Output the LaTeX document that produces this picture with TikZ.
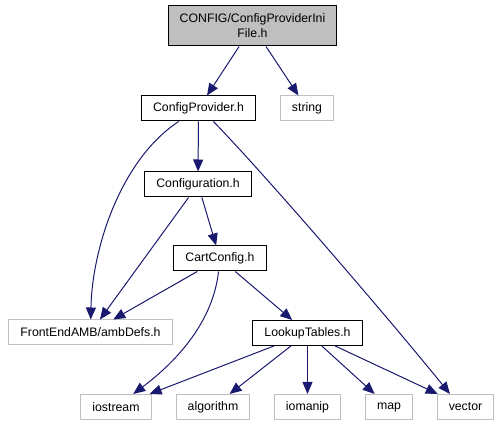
\documentclass[tikz,border=0pt]{standalone}
\usepackage{fontspec}
\setmainfont{Liberation Sans}
\usepackage{xcolor}
\usetikzlibrary{arrows.meta}
\definecolor{edgeblue}{RGB}{25,25,112}
\definecolor{boxgray}{RGB}{191,191,191}

\begin{document}
\begin{tikzpicture}[x=1pt, y=-1pt,
    file/.style={rectangle, draw=black, line width=1pt, inner xsep=11.5pt, inner ysep=0pt, minimum height=25pt, font=\fontsize{12.3}{15}\selectfont},
    extfile/.style={file, draw=boxgray},
    topfile/.style={file, fill=boxgray, align=center, minimum height=40pt},
    dep/.style={-{Triangle[length=12pt, width=10pt]}, draw=edgeblue, line width=1pt}]

    \useasboundingbox (0,0) rectangle (499,427);

    % Included file and its direct includes
    \node[topfile] (ini) at (252.5,26) {CONFIG/ConfigProviderIni\\File.h};
    \node[file] (provider) at (198.5,108.5) {ConfigProvider.h};
    \node[extfile] (string) at (307,108.5) {string};

    % Middle levels
    \node[file] (config) at (198,184.5) {Configuration.h};
    \node[file] (cart) at (220,258.5) {CartConfig.h};
    \node[extfile] (ambdefs) at (90.5,332.5) {FrontEndAMB/ambDefs.h};
    \node[file] (lookup) at (307.5,333) {LookupTables.h};

    % Standard headers
    \node[extfile] (iostream) at (116,407) {iostream};
    \node[extfile] (algorithm) at (213,407) {algorithm};
    \node[extfile] (iomanip) at (307.5,407) {iomanip};
    \node[extfile] (map) at (389,407) {map};
    \node[extfile] (vector) at (465.5,407) {vector};

    % Arrows - top
    \draw[dep] (ini) -- (provider);
    \draw[dep] (ini) -- (string);

    % Arrows - ConfigProvider.h
    \draw[dep] (provider) .. controls (120,160) and (92,250) .. (ambdefs);
    \draw[dep] (provider) -- (config);
    \draw[dep] (provider.-41) .. controls (270,180) and (390,320) .. (vector.140);

    % Arrows - Configuration.h and CartConfig.h
    \draw[dep] (config) -- (ambdefs);
    \draw[dep] (config) -- (cart);
    \draw[dep] (cart) -- (ambdefs);
    \draw[dep] (cart) .. controls (212,330) and (165,370) .. (iostream);
    \draw[dep] (cart) -- (lookup);

    % Arrows - LookupTables.h
    \draw[dep] (lookup) -- (iostream);
    \draw[dep] (lookup) -- (algorithm);
    \draw[dep] (lookup) -- (iomanip);
    \draw[dep] (lookup) -- (map);
    \draw[dep] (lookup) -- (vector);

\end{tikzpicture}
\end{document}
